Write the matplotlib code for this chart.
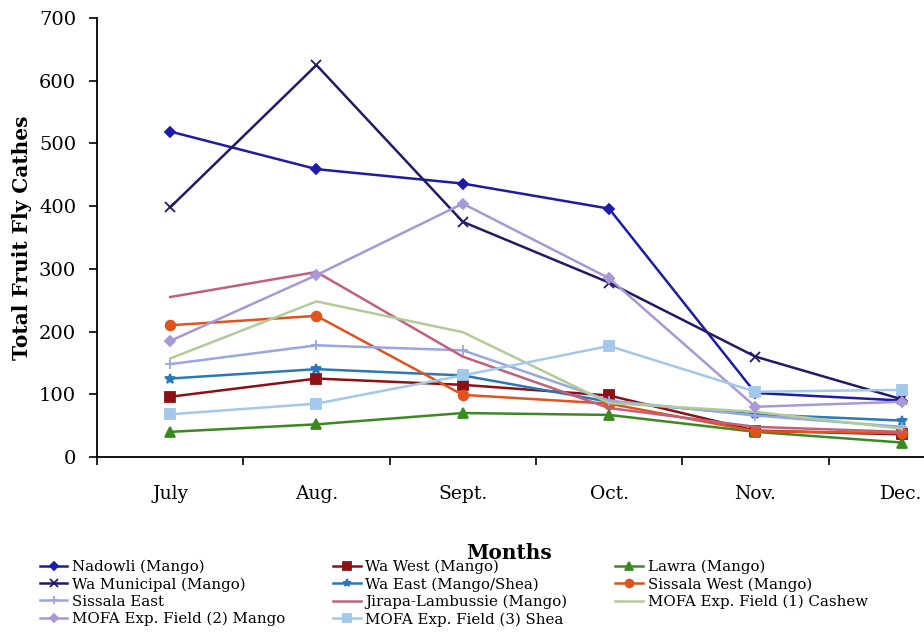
import matplotlib.pyplot as plt

plt.rcParams['font.family'] = 'DejaVu Serif'

months = ['July', 'Aug.', 'Sept.', 'Oct.', 'Nov.', 'Dec.']

nadowli = [519, 459, 436, 396, 102, 90]
wa_west = [96, 125, 115, 98, 42, 36]
lawra = [40, 52, 70, 67, 40, 23]
wa_municipal = [398, 625, 375, 278, 160, 92]
wa_east = [125, 140, 130, 88, 68, 58]
sissala_west = [210, 225, 99, 85, 41, 38]
sissala_east = [148, 178, 170, 90, 66, 48]
jirapa = [255, 295, 160, 78, 48, 40]
mofa_cashew = [157, 248, 199, 86, 72, 45]
mofa_mango = [185, 290, 404, 285, 80, 88]
mofa_shea = [68, 85, 130, 177, 104, 107]

# label, values, colour, marker
series = [
    ('Nadowli (Mango)', nadowli, '#1c1ca8', 'D'),
    ('Wa West (Mango)', wa_west, '#8e0f14', 's'),
    ('Lawra (Mango)', lawra, '#3a8a22', '^'),
    ('Wa Municipal (Mango)', wa_municipal, '#221a66', 'x'),
    ('Wa East (Mango/Shea)', wa_east, '#2a78b8', '*'),
    ('Sissala West (Mango)', sissala_west, '#e0521e', 'o'),
    ('Sissala East', sissala_east, '#98a6e4', '+'),
    ('Jirapa-Lambussie (Mango)', jirapa, '#c2607c', None),
    ('MOFA Exp. Field (1) Cashew', mofa_cashew, '#b2cc98', None),
    ('MOFA Exp. Field (2) Mango', mofa_mango, '#a898d6', 'D'),
    ('MOFA Exp. Field (3) Shea', mofa_shea, '#a2c8ec', 's'),
]

fig = plt.figure(figsize=(9.24, 6.32), dpi=100)
ax = fig.add_axes([0.105, 0.277, 0.950, 0.6945])

x = list(range(len(months)))
handles = []
for label, vals, color, marker in series:
    ms = 5 if marker == 'D' else 7
    h, = ax.plot(x, vals, color=color, marker=marker, markersize=ms,
                 markeredgewidth=1.3, linewidth=1.8, label=label)
    handles.append(h)

ax.set_xlim(-0.5, 5.5)
ax.set_ylim(0, 700)
ax.set_yticks(range(0, 701, 100))

# category labels sit between the tick marks
ax.set_xticks([i - 0.5 for i in range(7)])
ax.set_xticklabels([])
ax.set_xticks(x, minor=True)
ax.set_xticklabels(months, minor=True)
ax.tick_params(axis='x', which='minor', length=0, pad=20, labelsize=13.5)
ax.tick_params(axis='x', which='major', length=6, width=1.2)
ax.tick_params(axis='y', length=6, width=1.2, labelsize=14, pad=9)

for s in ['top', 'right']:
    ax.spines[s].set_visible(False)
for s in ['left', 'bottom']:
    ax.spines[s].set_linewidth(1.3)

ax.set_ylabel('Total Fruit Fly Cathes', fontsize=14.5, fontweight='bold', labelpad=5)
fig.text(0.551, 0.125, 'Months', ha='center', va='center',
         fontsize=14.5, fontweight='bold')

# row-major order for a 3-column legend
order = [0, 3, 6, 9, 1, 4, 7, 10, 2, 5, 8]
leg = fig.legend([handles[i] for i in order], [series[i][0] for i in order],
                 loc='upper left', bbox_to_anchor=(0.043, 0.114), ncol=3,
                 frameon=False, fontsize=10.8, handlelength=1.85,
                 handletextpad=0.3, columnspacing=3.2, labelspacing=0.2,
                 borderaxespad=0, borderpad=0, markerscale=0.8)

plt.savefig('out.png')
